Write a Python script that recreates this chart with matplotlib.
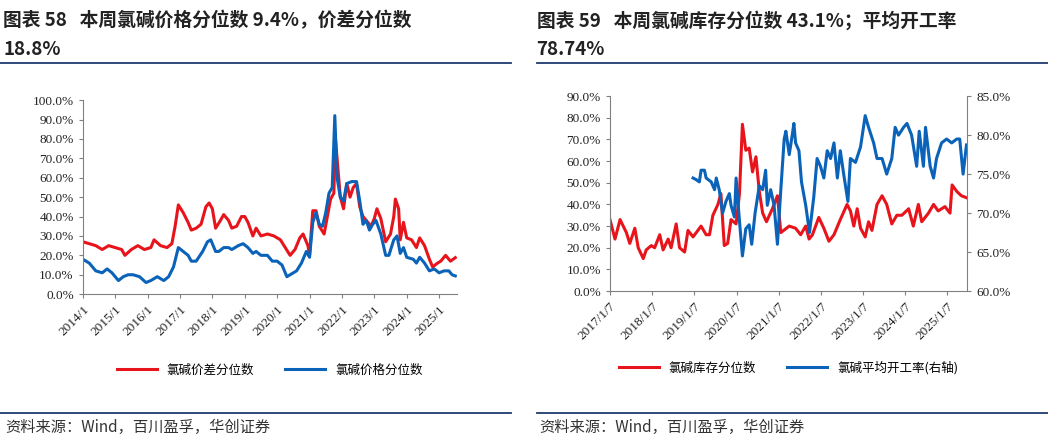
import numpy as np
import matplotlib.pyplot as plt
from matplotlib.lines import Line2D

# ---- left chart: chlor-alkali percentiles (%), x in decimal years
price_x = [2014.0, 2014.2, 2014.4, 2014.6, 2014.75, 2014.9, 2015.1, 2015.25, 2015.4, 2015.55, 2015.75, 2015.95,
           2016.1, 2016.3, 2016.5, 2016.65, 2016.8, 2016.95, 2017.1, 2017.25, 2017.35, 2017.5, 2017.7, 2017.85,
           2017.95, 2018.1, 2018.2, 2018.35, 2018.5, 2018.6, 2018.8, 2018.95, 2019.1, 2019.25, 2019.35, 2019.5,
           2019.7, 2019.85, 2020.0, 2020.15, 2020.3, 2020.4, 2020.6, 2020.75, 2020.9, 2021.0, 2021.1, 2021.2,
           2021.3, 2021.4, 2021.5, 2021.6, 2021.7, 2021.78, 2021.85, 2021.95, 2022.05, 2022.15, 2022.3, 2022.45,
           2022.55, 2022.65, 2022.75, 2022.85, 2022.95, 2023.05, 2023.2, 2023.35, 2023.45, 2023.6, 2023.7, 2023.8,
           2023.9, 2024.0, 2024.2, 2024.3, 2024.4, 2024.55, 2024.7, 2024.85, 2025.0, 2025.15, 2025.3, 2025.4, 2025.5]
price_pct = [18, 16, 12, 11, 13, 11, 7, 9, 10, 10, 9, 6,
             7, 9, 7, 9, 14, 24, 22, 20, 17, 17, 22, 27,
             28, 22, 22, 24, 24, 23, 25, 26, 24, 21, 22, 20,
             20, 17, 17, 15, 9, 10, 12, 16, 22, 19, 37, 42,
             36, 35, 42, 52, 55, 92, 60, 50, 48, 57, 58, 58,
             48, 36, 38, 33, 36, 38, 31, 20, 20, 28, 30, 21,
             24, 19, 18, 16, 19, 16, 12, 13, 11, 12, 12, 10, 9.4]

spread_x = [2014.0, 2014.2, 2014.4, 2014.6, 2014.8, 2015.0, 2015.2, 2015.3, 2015.5, 2015.7, 2015.9, 2016.1,
            2016.2, 2016.4, 2016.6, 2016.75, 2016.85, 2016.95, 2017.1, 2017.25, 2017.35, 2017.5, 2017.65, 2017.8,
            2017.9, 2018.0, 2018.1, 2018.25, 2018.35, 2018.5, 2018.6, 2018.75, 2018.9, 2019.0, 2019.1, 2019.25,
            2019.35, 2019.5, 2019.7, 2019.9, 2020.1, 2020.25, 2020.4, 2020.55, 2020.7, 2020.8, 2020.95, 2021.0,
            2021.1, 2021.2, 2021.3, 2021.45, 2021.55, 2021.65, 2021.75, 2021.8, 2021.85, 2021.95, 2022.05, 2022.15,
            2022.25, 2022.35, 2022.45, 2022.55, 2022.65, 2022.75, 2022.9, 2023.0, 2023.08, 2023.2, 2023.35, 2023.5,
            2023.6, 2023.65, 2023.75, 2023.8, 2023.9, 2024.0, 2024.15, 2024.3, 2024.4, 2024.55, 2024.7, 2024.8,
            2024.95, 2025.05, 2025.2, 2025.35, 2025.5]
spread_pct = [27, 26, 25, 23, 25, 24, 23, 20, 23, 25, 23, 24,
              28, 25, 24, 26, 35, 46, 42, 37, 33, 34, 36, 45,
              47, 44, 34, 38, 41, 38, 34, 35, 40, 40, 37, 30,
              34, 30, 31, 30, 28, 24, 20, 23, 29, 31, 25, 20,
              43, 43, 35, 31, 40, 49, 52, 80, 70, 50, 44, 57,
              50, 55, 57, 45, 40, 38, 35, 39, 44, 39, 27, 31,
              40, 49, 44, 28, 37, 29, 28, 24, 29, 25, 18, 14,
              16, 17, 20, 17, 18.8]

# ---- right chart: inventory percentile (%) and operating rate (%, right axis)
inv_x = [2017.00, 2017.12, 2017.24, 2017.39, 2017.47, 2017.59, 2017.67, 2017.79, 2017.86, 2017.98,
         2018.06, 2018.18, 2018.26, 2018.38, 2018.45, 2018.57, 2018.65, 2018.77, 2018.85, 2018.97,
         2019.16, 2019.28, 2019.36, 2019.44, 2019.56, 2019.63, 2019.71, 2019.79, 2019.87, 2019.99,
         2020.07, 2020.14, 2020.22, 2020.30, 2020.38, 2020.46, 2020.54, 2020.62, 2020.71, 2020.85, 2020.97,
         2021.05, 2021.25, 2021.40, 2021.52, 2021.64, 2021.72, 2021.80, 2021.95, 2022.07, 2022.19, 2022.31,
         2022.46, 2022.62, 2022.70, 2022.78, 2022.86, 2022.94, 2023.05, 2023.13, 2023.21, 2023.33, 2023.45,
         2023.56, 2023.68, 2023.80, 2023.92, 2024.08, 2024.19, 2024.31, 2024.39, 2024.55, 2024.67, 2024.78,
         2024.94, 2025.06, 2025.11, 2025.22, 2025.33, 2025.45]
inv_pct = [33, 24, 33, 27, 22, 29, 20, 15, 19, 21,
           20, 26, 19, 24, 20, 31, 20, 18, 28, 25,
           30, 26, 26, 35, 40, 45, 21, 22, 33, 31,
           45, 77, 65, 66, 55, 62, 46, 36, 32, 38, 44,
           27, 30, 29, 26, 30, 24, 26, 34, 29, 23, 26,
           33, 40, 37, 30, 38, 29, 25, 32, 28, 40, 44,
           40, 31, 35, 35, 38, 30, 40, 32, 36, 40, 37,
           39, 36, 49, 46, 44, 43.1]

rate_x = [2018.97, 2019.04, 2019.12, 2019.16, 2019.24, 2019.28, 2019.40, 2019.48, 2019.52, 2019.59,
          2019.67, 2019.75, 2019.83, 2019.87, 2019.95, 2019.99, 2020.07, 2020.14, 2020.22, 2020.30,
          2020.36, 2020.44, 2020.54, 2020.62, 2020.69, 2020.73, 2020.81, 2020.89, 2020.97, 2021.05,
          2021.13, 2021.17, 2021.25, 2021.32, 2021.36, 2021.40, 2021.48, 2021.54, 2021.64, 2021.73,
          2021.83, 2021.91, 2021.99, 2022.07, 2022.15, 2022.23, 2022.31, 2022.39, 2022.46, 2022.54,
          2022.64, 2022.70, 2022.82, 2022.94, 2023.05, 2023.13, 2023.25, 2023.33, 2023.45, 2023.56,
          2023.68, 2023.76, 2023.84, 2023.96, 2024.04, 2024.15, 2024.27, 2024.33, 2024.43, 2024.48,
          2024.59, 2024.67, 2024.74, 2024.86, 2024.98, 2025.10, 2025.22, 2025.29, 2025.37, 2025.45]
rate_pct = [74.5, 74.3, 74, 75.5, 75.5, 74.5, 74, 73, 74.5, 73,
            70, 71.5, 72.5, 71, 69.5, 74.5, 69, 64.5, 68, 68.5,
            66, 70, 73.5, 73, 75.5, 71, 73, 71, 66, 73,
            79.5, 80.5, 77.5, 80, 81.5, 79, 78, 74, 71, 67.5,
            72, 77, 76, 74.5, 78, 77, 79, 74.5, 78, 75,
            71.5, 77, 76.5, 78.5, 82.5, 81, 79, 77, 77, 75,
            77, 81, 80, 81, 81.5, 80, 76, 80.5, 76, 81,
            76, 74.5, 77, 79, 79.5, 79, 79.5, 79.5, 75, 78.74]

RED = "#e8141c"
BLUE = "#0a63b8"
NAVY = "#1f3a6e"
CJK = "Noto Sans CJK SC"
SERIF = "Liberation Serif"
TICK_SIZE = 9.5

fig = plt.figure(figsize=(10.48, 4.41), dpi=100)

# titles, rules and source lines
fig.text(0.003, 0.975, "图表 58   本周氯碱价格分位数 9.4%，价差分位数", fontsize=13.5,
         fontweight="bold", family=CJK, color="#222222", va="top")
fig.text(0.003, 0.91, "18.8%", fontsize=13.5, fontweight="bold", family=CJK, color="#222222", va="top")
fig.text(0.512, 0.975, "图表 59   本周氯碱库存分位数 43.1%；平均开工率", fontsize=13.5,
         fontweight="bold", family=CJK, color="#222222", va="top")
fig.text(0.512, 0.91, "78.74%", fontsize=13.5, fontweight="bold", family=CJK, color="#222222", va="top")
for x0, x1 in [(0.0, 0.488), (0.512, 1.0)]:
    fig.add_artist(Line2D([x0, x1], [0.858, 0.858], color=NAVY, lw=1.3))
    fig.add_artist(Line2D([x0, x1], [0.063, 0.063], color=NAVY, lw=1.3))
fig.text(0.005, 0.03, "资料来源：Wind，百川盈孚，华创证券", fontsize=11, family=CJK,
         style="italic", color="#333333", va="center")
fig.text(0.515, 0.03, "资料来源：Wind，百川盈孚，华创证券", fontsize=11, family=CJK,
         style="italic", color="#333333", va="center")


def style_axis(ax):
    for s in ["top", "right"]:
        ax.spines[s].set_visible(False)
    for s in ["left", "bottom"]:
        ax.spines[s].set_color("#808080")
    ax.tick_params(colors="#808080", labelcolor="#222222", labelsize=TICK_SIZE, length=3)
    for lab in ax.get_xticklabels() + ax.get_yticklabels():
        lab.set_family(SERIF)


pct_fmt = lambda v, _: f"{v:.1f}%"

# left chart
ax1 = fig.add_axes([0.079, 0.333, 0.357, 0.44])
ax1.plot(spread_x, spread_pct, color=RED, lw=2.2, label="氯碱价差分位数")
ax1.plot(price_x, price_pct, color=BLUE, lw=2.2, label="氯碱价格分位数")
ax1.set_xlim(2014.0, 2025.55)
ax1.set_ylim(0, 100)
ax1.set_yticks(np.arange(0, 101, 10))
ax1.yaxis.set_major_formatter(pct_fmt)
ax1.set_xticks(range(2014, 2026))
ax1.set_xticklabels([f"{y}/1" for y in range(2014, 2026)], rotation=45, ha="right", rotation_mode="anchor")
style_axis(ax1)
ax1.legend(loc="upper center", bbox_to_anchor=(0.5, -0.3), ncol=2, frameon=False,
           prop={"family": CJK, "size": 9}, handlelength=3.2, columnspacing=2.5)

# right chart
ax2 = fig.add_axes([0.582, 0.34, 0.341, 0.442])
l1, = ax2.plot(inv_x, inv_pct, color=RED, lw=2.2, label="氯碱库存分位数")
ax2.set_xlim(2017.0, 2025.47)
ax2.set_ylim(0, 90)
ax2.set_yticks(np.arange(0, 91, 10))
ax2.yaxis.set_major_formatter(pct_fmt)
ax2.set_xticks(range(2017, 2026))
ax2.set_xticklabels([f"{y}/1/7" for y in range(2017, 2026)], rotation=45, ha="right", rotation_mode="anchor")
style_axis(ax2)
ax3 = ax2.twinx()
l2, = ax3.plot(rate_x, rate_pct, color=BLUE, lw=2.2, label="氯碱平均开工率(右轴)")
ax3.set_ylim(60, 85)
ax3.set_yticks(np.arange(60, 86, 5))
ax3.yaxis.set_major_formatter(pct_fmt)
for s in ["top", "left", "bottom"]:
    ax3.spines[s].set_visible(False)
ax3.spines["right"].set_color("#808080")
ax3.tick_params(colors="#808080", labelcolor="#222222", labelsize=TICK_SIZE, length=3)
for lab in ax3.get_yticklabels():
    lab.set_family(SERIF)
ax2.legend(handles=[l1, l2], loc="upper center", bbox_to_anchor=(0.5, -0.3), ncol=2, frameon=False,
           prop={"family": CJK, "size": 9}, handlelength=3.2, columnspacing=2.5)

fig.savefig("out.png", dpi=100)
